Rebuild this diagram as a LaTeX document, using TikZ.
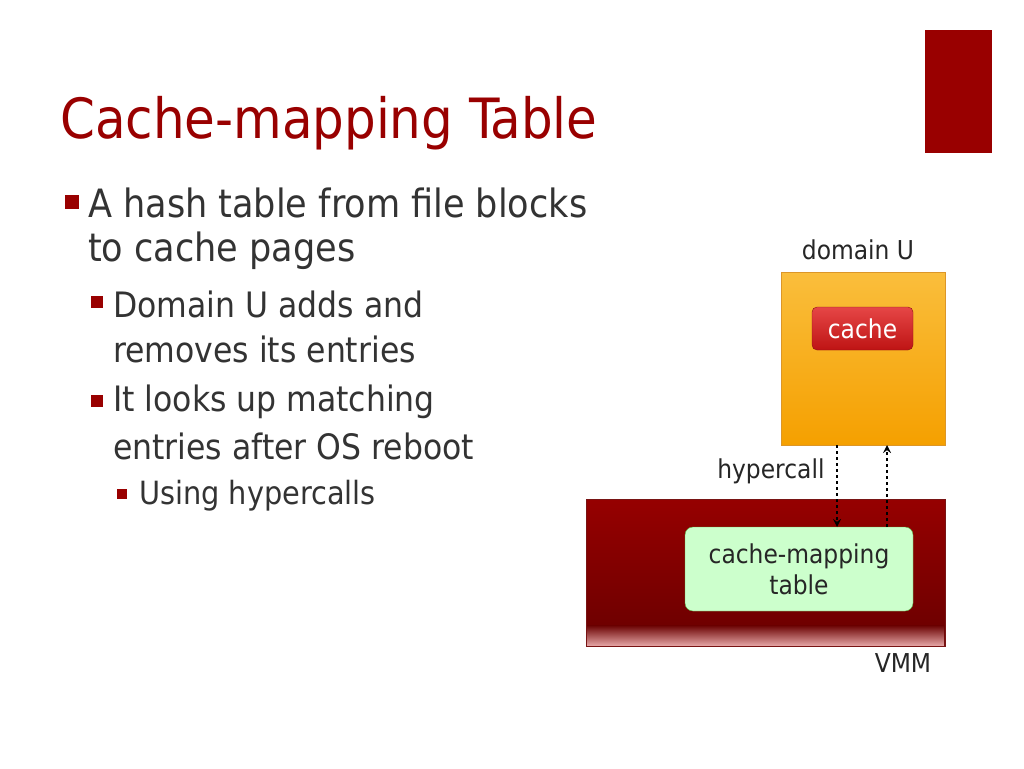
\documentclass[tikz,border=0pt]{standalone}
\usepackage{fontspec}
\setmainfont{DejaVu Sans Condensed}
\begin{document}
\begin{tikzpicture}[x=1pt,y=-1pt,
  bul/.style={fill=red!60!black,inner sep=0pt},
  txt/.style={anchor=west,inner sep=0pt,text=black!80},
  dtxt/.style={font=\fontsize{26}{30}\selectfont,text=black!85}]
\useasboundingbox (0,0) rectangle (1024,768);
\fill[white] (0,0) rectangle (1024,768);
\fill[red!60!black] (925,30) rectangle (992,153);
\node[anchor=base west,inner sep=0pt,text={rgb,255:red,153;green,0;blue,0},font=\fontsize{55.5}{60}\selectfont] (title) at (60,138) {Cache-mapping Table};
% bullets
\node[bul,minimum size=14pt] (b1) at (72,202) {};
\node[txt,font=\fontsize{39}{44}\selectfont] (t1) at (88,203) {A hash table from file blocks};
\node[txt,font=\fontsize{39}{44}\selectfont] (t1b) at (88,251) {to cache pages};
\node[bul,minimum size=12pt] (b2) at (97,302) {};
\node[txt,font=\fontsize{35}{40}\selectfont] (t2) at (113,304) {Domain U adds and};
\node[txt,font=\fontsize{35}{40}\selectfont] (t2b) at (113,349) {removes its entries};
\node[bul,minimum size=12pt] (b3) at (97,401) {};
\node[txt,font=\fontsize{35}{40}\selectfont] (t3) at (113,402) {It looks up matching};
\node[txt,font=\fontsize{35}{40}\selectfont] (t3b) at (113,446) {entries after OS reboot};
\node[bul,minimum size=10pt] (b4) at (122,494) {};
\node[txt,font=\fontsize{32}{36}\selectfont] (t4) at (139,496) {Using hypercalls};
% diagram
\node[draw={rgb,255:red,220;green,150;blue,40},top color={rgb,255:red,250;green,190;blue,60},bottom color={rgb,255:red,245;green,160;blue,0},minimum width=164pt,minimum height=173pt,inner sep=0pt] (dom) at (863,358.5) {};
\node[dtxt] (domlab) at (858,250) {domain U};
\node[draw={rgb,255:red,140;green,20;blue,20},rounded corners=5pt,top color={rgb,255:red,230;green,70;blue,70},bottom color={rgb,255:red,190;green,20;blue,20},minimum width=101pt,minimum height=43pt,text=white,font=\fontsize{26}{30}\selectfont] (cache) at (862.5,328.5) {cache};
\node[draw={rgb,255:red,120;green,20;blue,20},top color={rgb,255:red,150;green,0;blue,0},bottom color={rgb,255:red,105;green,0;blue,0},minimum width=359pt,minimum height=147pt,inner sep=0pt] (vmm) at (765.5,572.5) {};
\fill[bottom color={rgb,255:red,225;green,160;blue,160},top color={rgb,255:red,105;green,0;blue,0}] (587,625) rectangle (944,645);
\node[draw={rgb,255:red,90;green,180;blue,70},fill={rgb,255:red,204;green,255;blue,204},rounded corners=8pt,minimum width=228pt,minimum height=84pt,align=center,font=\fontsize{26}{31}\selectfont,text=black!85] (cmt) at (799,569) {cache-mapping\\table};
\node[dtxt] (vmmlab) at (903,663) {VMM};
\node[anchor=east,dtxt] (hyp) at (828,471) {hypercall};
\coordinate (d1) at (837,445); \coordinate (d2) at (837,527);
\coordinate (u1) at (887,527); \coordinate (u2) at (887,445);
\draw[dashed,line width=2.5pt,-stealth] (d1) -- (d2);
\draw[dashed,line width=2.5pt,-stealth] (u1) -- (u2);
\end{tikzpicture}
\end{document}
